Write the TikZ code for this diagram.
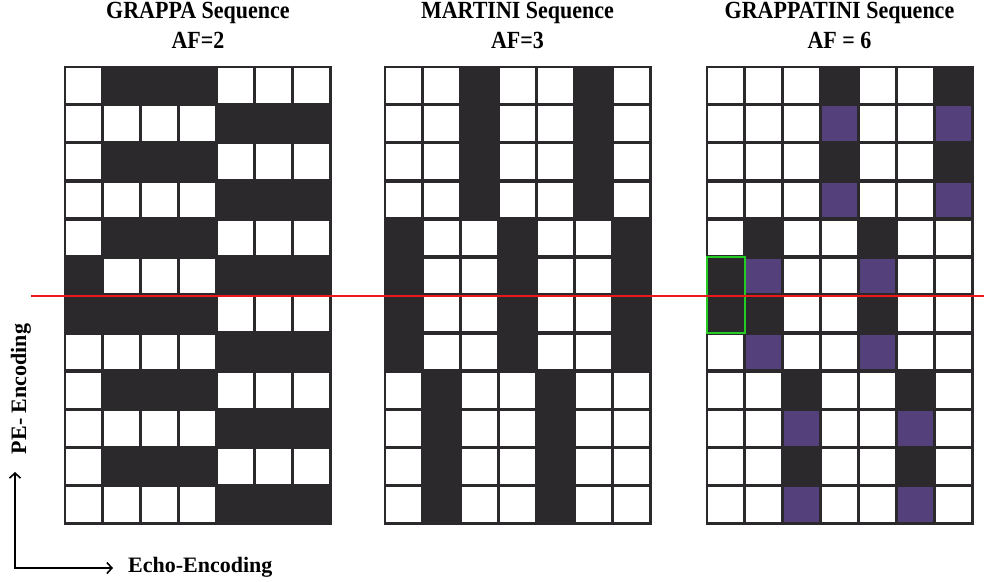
\documentclass[tikz,border=0pt]{standalone}
\usepackage{fontspec}
\setmainfont{Liberation Serif}
\usetikzlibrary{arrows.meta}

\definecolor{ink}{RGB}{43,41,43}
\colorlet{cell0}{white}
\colorlet{cell1}{ink}
\definecolor{cell2}{RGB}{84,64,122}
\definecolor{maskgreen}{RGB}{34,204,34}
\definecolor{cutred}{RGB}{238,24,24}

\tikzset{
  title/.style={font=\bfseries\fontsize{22}{30}\selectfont, align=center, inner sep=0pt, anchor=north},
  axislabel/.style={font=\bfseries\fontsize{22}{26}\selectfont, inner sep=0pt},
  barb/.tip={Straight Barb[length=5pt,width=11pt]},
  axisarrow/.style={line width=1.6pt, {barb}-{barb}},
}

% taller lettering for the headings
\newcommand\tallline[1]{\scalebox{1}[1.12]{#1}}

% k-space sampling grid: #1 = left edge, #2 = rows of codes (0 empty, 1 sampled, 2 shared)
\newcommand\samplinggrid[2]{%
  \fill[ink] (#1,66.5) rectangle ++(266,457);
  \foreach \rowpat [count=\r from 0] in {#2} {
    \foreach \c [count=\i from 0] in \rowpat {
      \fill[cell\c] ({#1+\i*38+1.75},{66.5+\r*38.0833+1.75}) rectangle ++(34.5,34.58);
    }
  }%
  \draw[ink, line width=2pt] (#1,66.5) rectangle ++(266,457);
}

\begin{document}
\begin{tikzpicture}[x=1pt,y=-1pt]
  \useasboundingbox (0,0) rectangle (984,581);

  % GRAPPA, AF = 2
  \samplinggrid{64.5}{
    {0,1,1,1,0,0,0},{0,0,0,0,1,1,1},{0,1,1,1,0,0,0},{0,0,0,0,1,1,1},
    {0,1,1,1,0,0,0},{1,0,0,0,1,1,1},{1,1,1,1,0,0,0},{0,0,0,0,1,1,1},
    {0,1,1,1,0,0,0},{0,0,0,0,1,1,1},{0,1,1,1,0,0,0},{0,0,0,0,1,1,1}}

  % MARTINI, AF = 3
  \samplinggrid{384.5}{
    {0,0,1,0,0,1,0},{0,0,1,0,0,1,0},{0,0,1,0,0,1,0},{0,0,1,0,0,1,0},
    {1,0,0,1,0,0,1},{1,0,0,1,0,0,1},{1,0,0,1,0,0,1},{1,0,0,1,0,0,1},
    {0,1,0,0,1,0,0},{0,1,0,0,1,0,0},{0,1,0,0,1,0,0},{0,1,0,0,1,0,0}}

  % GRAPPATINI, AF = 6
  \samplinggrid{706.5}{
    {0,0,0,1,0,0,1},{0,0,0,2,0,0,2},{0,0,0,1,0,0,1},{0,0,0,2,0,0,2},
    {0,1,0,0,1,0,0},{1,2,0,0,2,0,0},{1,1,0,0,1,0,0},{0,2,0,0,2,0,0},
    {0,0,1,0,0,1,0},{0,0,2,0,0,2,0},{0,0,1,0,0,1,0},{0,0,2,0,0,2,0}}

  % calibration block
  \draw[maskgreen, line width=2pt] (706.5,256.9) rectangle (744.5,333.2);

  % titles
  \node[title] (tGrappa) at (198,1.5) {\tallline{GRAPPA Sequence}\\\tallline{AF=2}};
  \node[title] (tMartini) at (517.5,1.5) {\tallline{MARTINI Sequence}\\\tallline{AF=3}};
  \node[title] (tGrappatini) at (839.5,1.5) {\tallline{GRAPPATINI Sequence}\\\tallline{AF = 6}};

  % k-space centre line
  \coordinate (cutL) at (31,296);
  \coordinate (cutR) at (984,296);
  \draw[cutred, line width=1.5pt] (cutL) -- (cutR);

  % encoding directions
  \coordinate (origin) at (15,568);
  \coordinate (peEnd) at (15,472);
  \coordinate (echoEnd) at (113,568);
  \draw[axisarrow] (peEnd) -- (origin) -- (echoEnd);
  \node[axislabel, rotate=90] (peLabel) at (21,389) {PE- Encoding};
  \node[axislabel, anchor=base west] (echoLabel) at (128,572) {Echo-Encoding};
\end{tikzpicture}
\end{document}
